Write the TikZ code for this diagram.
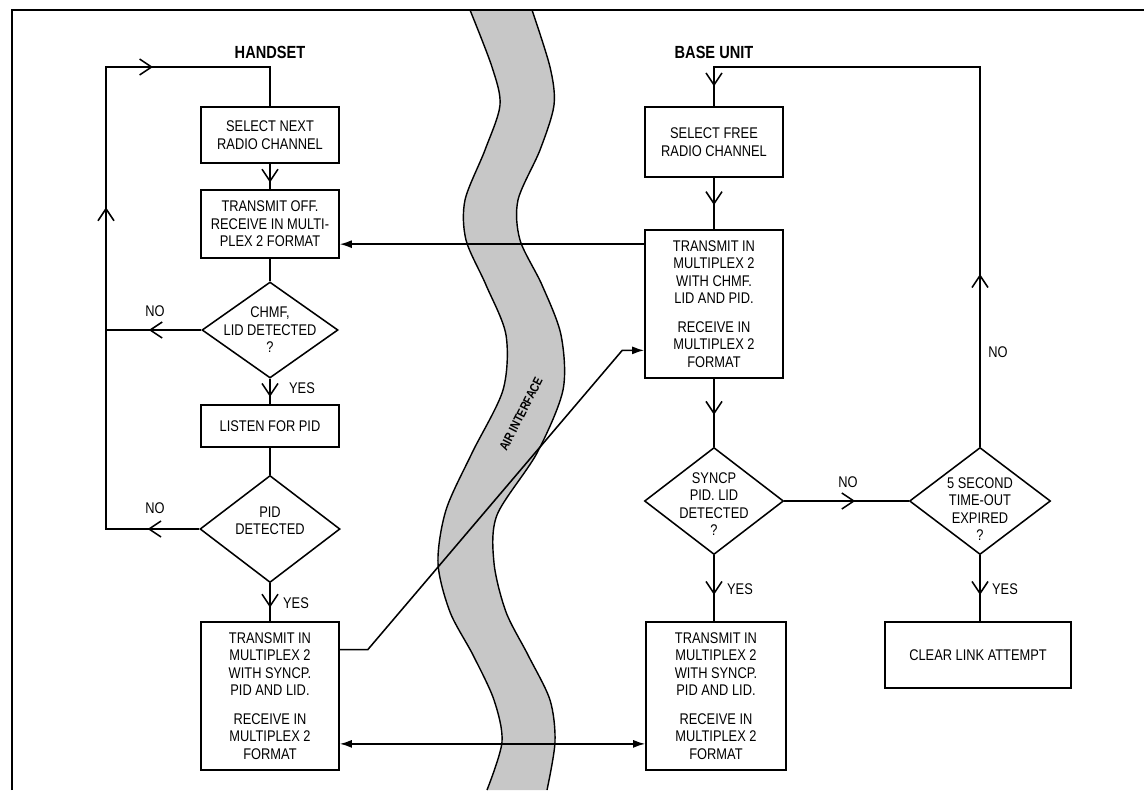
\documentclass[tikz,border=0pt]{standalone}
\usepackage{fontspec}
\setmainfont{Liberation Sans}[FakeStretch=0.83]
\usepackage{tikz}
\usetikzlibrary{shapes.geometric, arrows.meta, decorations.markings, calc, positioning}

\tikzset{
  box/.style={draw, line width=1.1pt, align=center, minimum width=3.45cm, inner sep=2pt},
  decision/.style={draw, diamond, line width=1.1pt, inner sep=0pt},
  conn/.style={line width=1.1pt},
  chev/.style={postaction={decorate, decoration={markings,
      mark=at position #1 with {\arrow{Straight Barb[length=3mm,width=4mm,line width=1.1pt]}}}}},
  head/.style={font=\bfseries\fontsize{12.5}{14}\selectfont},
  tip/.style={-{Latex[length=3mm,width=2mm]}},
}

\begin{document}
\begin{tikzpicture}[x=0.025cm, y=-0.025cm, font=\fontsize{11}{12.4}\selectfont]
\useasboundingbox (0,0) rectangle (1144,790);

% air interface band
\fill[black!22] plot[smooth] coordinates {(470,10) (492,67) (500,105) (485,150) (465,200) (466,240) (486,285) (506,335) (503,390) (472,453) (446,510) (438,563) (450,612) (473,655) (494,700) (502,742) (487,790)}
  -- plot[smooth] coordinates {(547,790) (555,742) (550,700) (528,655) (506,612) (494,563) (497,515) (537,453) (563,390) (561,335) (542,285) (520,240) (518,200) (540,150) (554,105) (550,67) (532,10)} -- cycle;
\draw[line width=1pt] plot[smooth] coordinates {(470,10) (492,67) (500,105) (485,150) (465,200) (466,240) (486,285) (506,335) (503,390) (472,453) (446,510) (438,563) (450,612) (473,655) (494,700) (502,742) (487,790)};
\draw[line width=1pt] plot[smooth] coordinates {(547,790) (555,742) (550,700) (528,655) (506,612) (494,563) (497,515) (537,453) (563,390) (561,335) (542,285) (520,240) (518,200) (540,150) (554,105) (550,67) (532,10)};
\node[rotate=63, font=\bfseries\fontsize{9}{10}\selectfont] (air) at (521,414) {AIR INTERFACE};

% frame
\draw[line width=1.3pt] (12,790) -- (12,10) -- (1144,10);

% handset
\node[head] (hset) at (270,52) {HANDSET};
\node[box, minimum height=1.4cm] (hs1) at (270,135) {SELECT NEXT\\RADIO CHANNEL};
\node[box, minimum height=1.7cm] (hs2) at (270,224) {TRANSMIT OFF.\\RECEIVE IN MULTI-\\PLEX 2 FORMAT};
\node[decision, minimum width=3.4cm, minimum height=2.4cm] (hd1) at (270,330) {};
\node[align=center] (hd1t) at (270,330) {CHMF,\\LID DETECTED\\?};
\node[box, minimum height=1.05cm] (hs3) at (270,426) {LISTEN FOR PID};
\node[decision, minimum width=3.5cm, minimum height=2.675cm] (hd2) at (270,529) {};
\node[align=center] (hd2t) at (270,521) {PID\\DETECTED};
\node[box, minimum height=3.7cm] (hs4) at (270,696) {TRANSMIT IN\\MULTIPLEX 2\\WITH SYNCP.\\PID AND LID.\\[8pt]RECEIVE IN\\MULTIPLEX 2\\FORMAT};

% base unit
\node[head] (bunit) at (714,52) {BASE UNIT};
\node[box, minimum height=1.75cm] (bs1) at (714,142) {SELECT FREE\\RADIO CHANNEL};
\node[box, minimum height=3.7cm] (bs2) at (714,304) {TRANSMIT IN\\MULTIPLEX 2\\WITH CHMF.\\LID AND PID.\\[8pt]RECEIVE IN\\MULTIPLEX 2\\FORMAT};
\node[decision, minimum width=3.475cm, minimum height=2.675cm] (bd1) at (714,501) {};
\node[align=center] (bd1t) at (714,504) {SYNCP\\PID. LID\\DETECTED\\?};
\node[box, minimum width=3.5cm, minimum height=3.7cm] (bs3) at (716,696) {TRANSMIT IN\\MULTIPLEX 2\\WITH SYNCP.\\PID AND LID.\\[8pt]RECEIVE IN\\MULTIPLEX 2\\FORMAT};
\node[decision, minimum width=3.525cm, minimum height=2.675cm] (bd2) at (980,501) {};
\node[align=center] (bd2t) at (980,509) {5 SECOND\\TIME-OUT\\EXPIRED\\?};
\node[box, minimum width=4.65cm, minimum height=1.65cm] (clr) at (978,655) {CLEAR LINK ATTEMPT};

% labels
\node (no1) at (155,311) {NO};
\node (yes1) at (302,388) {YES};
\node (no2) at (155,508) {NO};
\node (yes2) at (296,603) {YES};
\node (no3) at (848,482) {NO};
\node (no4) at (998,352) {NO};
\node (yes3) at (740,589) {YES};
\node (yes4) at (1005,589) {YES};

\coordinate (ltop) at (106,67);
\coordinate (rtop) at (980,67);

% handset flow
\draw[conn, chev=0.068, chev=0.547, chev=0.794] (hd2.west) -- (hd2.west -| ltop) -- (ltop) -- (ltop -| hs1.north) -- (hs1.north);
\draw[conn, chev=0.55] (hd1.west) -- (hd1.west -| ltop);
\draw[conn, chev=0.74] (hs1) -- (hs2);
\draw[conn] (hs2) -- (hd1);
\draw[conn, chev=0.71] (hd1) -- (hs3);
\draw[conn] (hs3) -- (hd2);
\draw[conn, chev=0.64] (hd2) -- (hs4);

% base flow
\draw[conn, chev=0.252, chev=0.971] (bd2.north) -- (rtop) -- (rtop -| bs1.north) -- (bs1.north);
\draw[conn, chev=0.53] (bs1) -- (bs2);
\draw[conn, chev=0.53] (bs2) -- (bd1);
\draw[conn, chev=0.57] (bd1) -- (bd2);
\draw[conn, chev=0.6] (bd1.south) -- (bd1.south |- bs3.north);
\draw[conn, chev=0.6] (bd2.south) -- (bd2.south |- clr.north);

% across the air interface
\coordinate (tx) at ($(bs2.north west)!0.1!(bs2.south west)$);
\draw[conn, tip] (tx) -- (tx -| hs2.east);
\coordinate (hx) at ($(hs4.north east)!0.19!(hs4.south east)$);
\coordinate (bx) at ($(bs2.north west)!0.81!(bs2.south west)$);
\draw[conn, tip] (hx) -- ++(28,0) -- ($(bx)+(-22,0)$) -- (bx);
\coordinate (hy) at ($(hs4.north east)!0.82!(hs4.south east)$);
\draw[conn, {Latex[length=3mm,width=2mm]}-{Latex[length=3mm,width=2mm]}] (hy) -- (hy -| bs3.west);
\end{tikzpicture}
\end{document}
